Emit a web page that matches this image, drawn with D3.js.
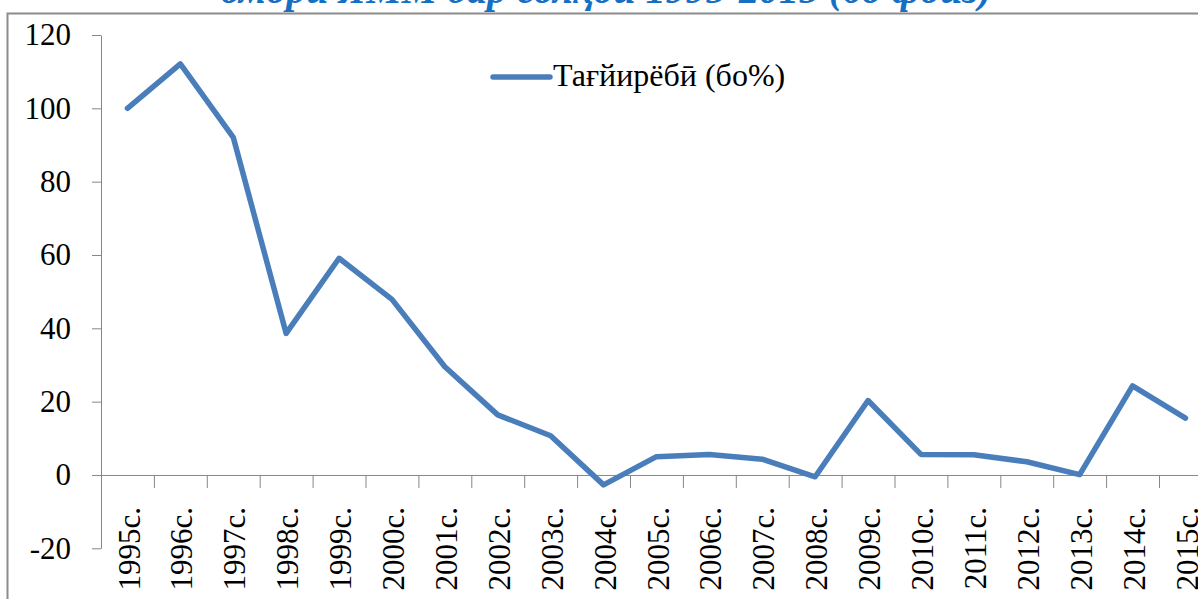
<!DOCTYPE html>
<html>
<head>
<meta charset="utf-8">
<script src="https://cdn.jsdelivr.net/npm/d3@7"></script>
<style>
    html, body { margin: 0; padding: 0; background: #fff; overflow: hidden; }
    svg { display: block; }
</style>
</head>
<body>
<svg id="chart" width="1198" height="599"></svg>
<script>
var years = ["1995с.", "1996с.", "1997с.", "1998с.", "1999с.", "2000с.", "2001с.",
             "2002с.", "2003с.", "2004с.", "2005с.", "2006с.", "2007с.", "2008с.",
             "2009с.", "2010с.", "2011с.", "2012с.", "2013с.", "2014с.", "2015с."];
var change = [100, 112.1, 92.1, 38.6, 59.1, 47.9, 29.5, 16.4, 10.7, -2.7, 5.0,
              5.6, 4.3, -0.5, 20.3, 5.6, 5.5, 3.6, 0.1, 24.3, 15.5];
var y_ticks = [-20, 0, 20, 40, 60, 80, 100, 120];
var series_name = "Тағйирёбӣ (бо%)";
var title_text = "омори ЯММ дар солҳои 1995-2015 (бо фоиз)";

var svg = d3.select("#chart");
var serif_font = '"Liberation Serif", serif';
var axis_color = "#878787";

// plot area (the right edge runs past the picture, like the original crop)
var plot_l = 101, plot_r = 101 + 21 * 52.9, plot_t = 35, plot_b = 548.3;

var x = d3.scaleBand().domain(years).range([plot_l, plot_r]);
var y = d3.scaleLinear().domain([-20, 120]).range([plot_b, plot_t]);

/* outer frame and the clipped title above it */
svg.append("text")
    .attr("x", 606)
    .attr("y", 3)
    .attr("text-anchor", "middle")
    .style("font-family", serif_font)
    .style("font-style", "italic")
    .style("font-weight", "bold")
    .style("font-size", "40px")
    .style("fill", "#1570c4")
    .text(title_text);

svg.append("rect")
    .attr("x", 7.5).attr("y", 13.5)
    .attr("width", 1300).attr("height", 700)
    .attr("fill", "none")
    .attr("stroke", "#8c8c8c")
    .attr("stroke-width", 2);

/* y axis */
var yAxis = svg.append("g")
    .attr("transform", `translate(${plot_l},0)`)
    .call(d3.axisLeft(y).tickValues(y_ticks).tickFormat(d => String(d))
        .tickSize(9).tickSizeOuter(0).tickPadding(21));
yAxis.select(".domain").attr("stroke", axis_color);
yAxis.selectAll(".tick line").attr("stroke", axis_color);
yAxis.selectAll(".tick text")
    .style("font-family", serif_font)
    .style("font-size", "31px")
    .style("fill", "#000");

/* x axis: boundary ticks below the zero line */
var xEdges = d3.scaleLinear().domain([0, years.length]).range([plot_l, plot_r]);
var xTicks = svg.append("g")
    .attr("transform", `translate(0,${y(0)})`)
    .call(d3.axisBottom(xEdges).ticks(years.length).tickFormat("").tickSize(13).tickSizeOuter(0));
xTicks.select(".domain").attr("stroke", axis_color);
xTicks.selectAll(".tick line").attr("stroke", axis_color);
xTicks.selectAll(".tick").filter(d => d == 0).remove();

/* x labels, rotated */
var xAxis = svg.append("g")
    .attr("transform", `translate(0,${y(0)})`)
    .call(d3.axisBottom(x).tickSize(0));
xAxis.select(".domain").remove();
xAxis.selectAll(".tick text")
    .attr("transform", "rotate(-90)")
    .attr("x", -32)
    .attr("y", 0)
    .attr("dy", "0.39em")
    .style("text-anchor", "end")
    .style("font-family", serif_font)
    .style("font-size", "31px")
    .style("fill", "#000");

/* the series line */
var line = d3.line()
    .x((d, i) => x(years[i]) + x.bandwidth() / 2)
    .y(d => y(d));

svg.append("path")
    .datum(change)
    .attr("d", line)
    .attr("fill", "none")
    .attr("stroke", "#4a7ebb")
    .attr("stroke-width", 5.5)
    .attr("stroke-linejoin", "round")
    .attr("stroke-linecap", "round");

/* legend */
var legend = svg.append("g").attr("transform", "translate(493,77)");
legend.append("line")
    .attr("x1", 0).attr("x2", 57)
    .attr("y1", 0).attr("y2", 0)
    .attr("stroke", "#4a7ebb")
    .attr("stroke-width", 5.5)
    .attr("stroke-linecap", "round");
legend.append("text")
    .attr("x", 60)
    .attr("y", 9)
    .style("font-family", serif_font)
    .style("font-size", "32px")
    .style("fill", "#000")
    .text(series_name);
</script>
</body>
</html>
